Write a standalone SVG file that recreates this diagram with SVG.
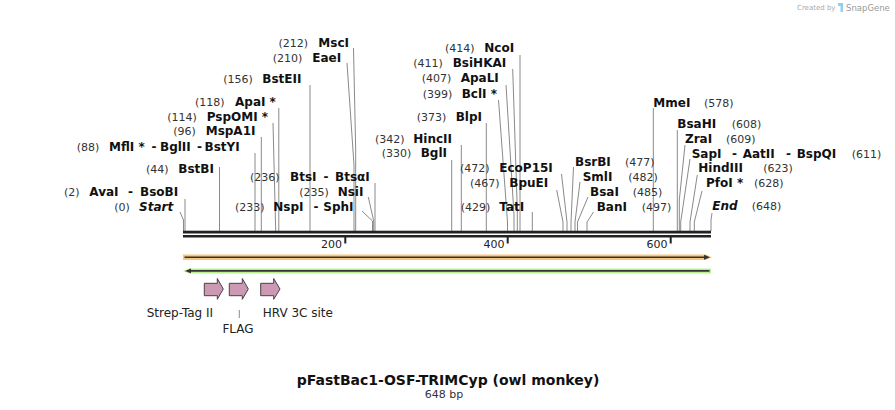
<svg xmlns="http://www.w3.org/2000/svg" width="895" height="410" viewBox="0 0 895 410">
<style>
text{font-family:"DejaVu Sans",Verdana,sans-serif}
.num{font-size:11px;fill:#333}
.nm{font-size:12px;font-weight:bold;fill:#111}
.it{font-style:italic}
.site{stroke:#8a8a8a;stroke-width:1;fill:none}
.feat{fill:#cc99b4;stroke:#4d3f46;stroke-width:1}
.flab{font-size:12px;fill:#222}
.tick{font-size:11px;fill:#222;text-anchor:end}
</style>
<rect width="895" height="410" fill="#fff"/>

<g id="credit">
<text x="797" y="10" style="font-size:7px;fill:#aaa">Created by</text>
<path d="M838,3 h5 v9 h-2.5 v-6 h-2.5 z" fill="#8fd0f2"/>
<text x="846" y="10.5" style="font-size:8.5px;fill:#999">SnapGene</text>
</g>

<g id="connectors">
<polyline class="site" points="180,212 183.5,220 183.5,231"/>
<line class="site" x1="185" y1="199" x2="185" y2="231"/>
<line class="site" x1="219.5" y1="167" x2="219.5" y2="231"/>
<line class="site" x1="255" y1="153" x2="255" y2="231"/>
<line class="site" x1="261.3" y1="137" x2="261.3" y2="231"/>
<line class="site" x1="273" y1="123" x2="275.7" y2="231"/>
<line class="site" x1="278.8" y1="108" x2="278.8" y2="231"/>
<line class="site" x1="310" y1="85" x2="310" y2="231"/>
<polyline class="site" points="347,63 354,165 354,231"/>
<polyline class="site" points="353.5,48 355.7,150 355.7,231"/>
<polyline class="site" points="362,211 372.5,221 372.5,231"/>
<polyline class="site" points="368.3,197 373.7,221 373.7,231"/>
<line class="site" x1="375" y1="183" x2="375" y2="231"/>
<line class="site" x1="451.7" y1="160" x2="451.7" y2="231"/>
<line class="site" x1="461.3" y1="145" x2="461.3" y2="231"/>
<line class="site" x1="486.3" y1="123" x2="486.3" y2="231"/>
<polyline class="site" points="498.5,100 507.5,222 507.5,231"/>
<polyline class="site" points="506,85 514,215 514,231"/>
<polyline class="site" points="512.7,69 517.3,210 517.3,231"/>
<line class="site" x1="520" y1="55" x2="520" y2="231"/>
<line class="site" x1="532.3" y1="212" x2="532.3" y2="231"/>
<polyline class="site" points="556.7,190 563,222 563,231"/>
<polyline class="site" points="561.5,174 567,222 567,231"/>
<polyline class="site" points="573.5,167 571,222 571,231"/>
<polyline class="site" points="580,182 575,222 575,231"/>
<polyline class="site" points="588,197 577.5,222 577.5,231"/>
<polyline class="site" points="593.5,212 587,222 587,231"/>
<line class="site" x1="653.3" y1="108" x2="653.3" y2="231"/>
<line class="site" x1="677.3" y1="130" x2="677.3" y2="231"/>
<polyline class="site" points="685,145 679.3,200 679.3,231"/>
<polyline class="site" points="690,159 680.7,222 680.7,231"/>
<polyline class="site" points="697.3,175 690,222 690,231"/>
<polyline class="site" points="702,191 694.3,222 694.3,231"/>
<polyline class="site" points="712,213 711,220 711,231"/>
<line class="site" x1="239.3" y1="310" x2="239.3" y2="318"/>
</g>

<g id="ruler">
<rect x="183" y="230.7" width="528" height="2.8" fill="#222"/>
<rect x="183" y="235" width="528" height="2.5" fill="#222"/>
<rect x="344.3" y="237" width="2" height="6.5" fill="#222"/>
<rect x="506.7" y="237" width="2" height="6.5" fill="#222"/>
<rect x="669.7" y="237" width="2" height="6.5" fill="#222"/>
<text class="tick" x="342" y="248">200</text>
<text class="tick" x="504.5" y="248">400</text>
<text class="tick" x="667.5" y="248">600</text>
</g>

<g id="strand-forward">
<path d="M183,254.6 H706 L712,257.3 L706,260 H183 Z" fill="#f8c57c"/>
<line x1="184.5" y1="257.3" x2="706" y2="257.3" stroke="#333" stroke-width="1.6"/>
<path d="M704,254.8 L710,257.3 L704,259.8 Z" fill="#333"/>
</g>
<g id="strand-reverse">
<path d="M189,268.4 H711 V273.4 H189 L183,270.9 Z" fill="#b7f08c"/>
<line x1="189" y1="270.9" x2="709.5" y2="270.9" stroke="#333" stroke-width="1.6"/>
<path d="M191,268.5 L185,270.9 L191,273.3 Z" fill="#333"/>
</g>

<g id="feat-strep">
<path class="feat" d="M204.3,283.3 H217.3 V278.5 L223.3,289 L217.3,299.3 V295.7 H204.3 Z"/>
<text class="flab" x="146.7" y="316.7">Strep-Tag II</text>
</g>
<g id="feat-flag">
<path class="feat" d="M229.3,283.3 H242.3 V278.5 L248.3,289 L242.3,299.3 V295.7 H229.3 Z"/>
<text class="flab" x="238" y="332.7" text-anchor="middle">FLAG</text>
</g>
<g id="feat-hrv">
<path class="feat" d="M260.7,283.3 H273.7 V278.5 L280,289 L273.7,299.3 V295.7 H260.7 Z"/>
<text class="flab" x="262.7" y="316.7">HRV 3C site</text>
</g>

<g id="site-MscI"><text class="num" x="278.5" y="46.5">(212)</text><text class="nm" x="318.3" y="46.5">MscI</text></g>
<g id="site-EaeI"><text class="num" x="272.7" y="61.5">(210)</text><text class="nm" x="312.3" y="61.5">EaeI</text></g>
<g id="site-BstEII"><text class="num" x="223.3" y="83.3">(156)</text><text class="nm" x="262.3" y="83.3">BstEII</text></g>
<g id="site-ApaI"><text class="num" x="195" y="106">(118)</text><text class="nm" x="235" y="106">ApaI *</text></g>
<g id="site-PspOMI"><text class="num" x="167.3" y="120.5">(114)</text><text class="nm" x="206.7" y="120.5">PspOMI *</text></g>
<g id="site-MspA1I"><text class="num" x="173.3" y="135">(96)</text><text class="nm" x="205.7" y="135">MspA1I</text></g>
<g id="site-MflI"><text class="num" x="76.7" y="150.5">(88)</text><text class="nm" y="150.5"><tspan x="109">MflI *</tspan><tspan x="151.5">-</tspan><tspan x="160">BglII</tspan><tspan x="197">-</tspan><tspan x="204.5">BstYI</tspan></text></g>
<g id="site-BstBI"><text class="num" x="146" y="172.5">(44)</text><text class="nm" x="178.3" y="172.5">BstBI</text></g>
<g id="site-AvaI"><text class="num" x="64" y="196">(2)</text><text class="nm" y="196"><tspan x="89.3">AvaI</tspan><tspan x="128">-</tspan><tspan x="140">BsoBI</tspan></text></g>
<g id="site-Start"><text class="num" x="114.3" y="210.7">(0)</text><text class="nm it" x="139" y="210.7">Start</text></g>
<g id="site-BtsI"><text class="num" x="250" y="180.7">(236)</text><text class="nm" y="180.7"><tspan x="290">BtsI</tspan><tspan x="323.5">-</tspan><tspan x="335">BtsαI</tspan></text></g>
<g id="site-NsiI"><text class="num" x="299.3" y="195.7">(235)</text><text class="nm" x="337.7" y="195.7">NsiI</text></g>
<g id="site-NspI"><text class="num" x="235" y="210.7">(233)</text><text class="nm" y="210.7"><tspan x="273.3">NspI</tspan><tspan x="313.5">-</tspan><tspan x="323.3">SphI</tspan></text></g>

<g id="site-NcoI"><text class="num" x="445" y="52.3">(414)</text><text class="nm" x="484.3" y="52.3">NcoI</text></g>
<g id="site-BsiHKAI"><text class="num" x="413.3" y="67.3">(411)</text><text class="nm" x="452.7" y="67.3">BsiHKAI</text></g>
<g id="site-ApaLI"><text class="num" x="421.7" y="82.3">(407)</text><text class="nm" x="460.7" y="82.3">ApaLI</text></g>
<g id="site-BclI"><text class="num" x="422.7" y="97.7">(399)</text><text class="nm" x="461.7" y="97.7">BclI *</text></g>
<g id="site-BlpI"><text class="num" x="416.7" y="121">(373)</text><text class="nm" x="455.7" y="121">BlpI</text></g>
<g id="site-HincII"><text class="num" x="375" y="143.3">(342)</text><text class="nm" x="413.3" y="143.3">HincII</text></g>
<g id="site-BglI"><text class="num" x="381.7" y="157.3">(330)</text><text class="nm" x="420.7" y="157.3">BglI</text></g>
<g id="site-EcoP15I"><text class="num" x="460" y="172.3">(472)</text><text class="nm" x="499.3" y="172.3">EcoP15I</text></g>
<g id="site-BpuEI"><text class="num" x="470" y="187.3">(467)</text><text class="nm" x="509.3" y="187.3">BpuEI</text></g>
<g id="site-TatI"><text class="num" x="460.7" y="210.7">(429)</text><text class="nm" x="499.3" y="210.7">TatI</text></g>

<g id="site-BsrBI"><text class="nm" x="575" y="165.5">BsrBI</text><text class="num" x="625" y="165.5">(477)</text></g>
<g id="site-SmlI"><text class="nm" x="582.7" y="181">SmlI</text><text class="num" x="628.3" y="181">(482)</text></g>
<g id="site-BsaI"><text class="nm" x="590" y="195.7">BsaI</text><text class="num" x="632.7" y="195.7">(485)</text></g>
<g id="site-BanI"><text class="nm" x="596.7" y="210.7">BanI</text><text class="num" x="641.7" y="210.7">(497)</text></g>
<g id="site-MmeI"><text class="nm" x="653.3" y="106.7">MmeI</text><text class="num" x="704" y="106.7">(578)</text></g>
<g id="site-BsaHI"><text class="nm" x="677.3" y="127.5">BsaHI</text><text class="num" x="731.7" y="127.5">(608)</text></g>
<g id="site-ZraI"><text class="nm" x="685" y="142.7">ZraI</text><text class="num" x="726" y="142.7">(609)</text></g>
<g id="site-SapI"><text class="nm" y="157.7"><tspan x="691.7">SapI</tspan><tspan x="732">-</tspan><tspan x="742.7">AatII</tspan><tspan x="786">-</tspan><tspan x="796.7">BspQI</tspan></text><text class="num" x="851.7" y="157.7">(611)</text></g>
<g id="site-HindIII"><text class="nm" x="698.3" y="171.7">HindIII</text><text class="num" x="763.3" y="171.7">(623)</text></g>
<g id="site-PfoI"><text class="nm" x="706" y="186.7">PfoI *</text><text class="num" x="754" y="186.7">(628)</text></g>
<g id="site-End"><text class="nm it" x="712.3" y="210">End</text><text class="num" x="751.7" y="210">(648)</text></g>

<g id="title">
<text x="448" y="385" text-anchor="middle" style="font-size:14px;font-weight:bold;fill:#111">pFastBac1-OSF-TRIMCyp (owl monkey)</text>
<text x="444" y="397.5" text-anchor="middle" style="font-size:11px;fill:#333">648 bp</text>
</g>
</svg>
